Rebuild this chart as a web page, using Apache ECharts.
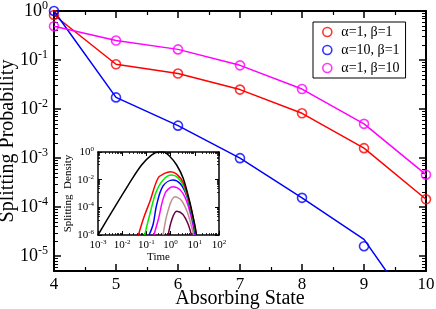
<!DOCTYPE html>
<html><head><meta charset="utf-8">
<script src="https://cdn.jsdelivr.net/npm/echarts@6/dist/echarts.min.js"></script>
<style>html,body{margin:0;padding:0;background:#fff}#c{width:436px;height:309px}</style>
</head><body><div id="c"></div>
<script>
// ---- main chart data ----
const states = [4, 5, 6, 7, 8, 9, 10];
const probA1B1 = [0.83, 0.082, 0.053, 0.025, 0.0082, 0.0016, 0.000145];
const probA10B1 = [1.0, 0.0173, 0.0046, 0.001, 0.000155, 0.000016];
const probA1B10 = [0.49, 0.25, 0.165, 0.078, 0.0256, 0.005, 0.00046];
const curveA10B1 = [1.0, 0.0173, 0.0046, 0.001, 0.000155, 0.000022, 0.00000035];
const seriesNames = ['α=1, β=1', 'α=10, β=1', 'α=1, β=10'];
const seriesColors = ['#ff0000', '#0000ff', '#ff00ff'];
// ---- inset data ----
const tBlack = [0.001, 0.00372, 0.0178, 0.0631, 0.162, 0.316, 0.501, 0.955, 1.778, 3.311, 6.166, 10, 11.75];
const dBlack = [1e-6, 4.68e-5, 4.07e-3, 0.115, 0.603, 1.0, 1.0, 0.457, 0.115, 0.0126, 2.51e-4, 5.01e-6, 1e-6];
const tRed = [0.0468, 0.0794, 0.138, 0.302, 0.562, 1.0, 1.78, 3.31, 6.17, 10, 11.7];
const dRed = [1e-6, 2e-5, 2.5e-4, 0.0126, 0.0282, 0.0372, 0.0251, 0.0063, 2e-4, 5e-6, 1e-6];
const tGreen = [0.0851, 0.141, 0.251, 0.501, 1.096, 1.995, 3.548, 6.31, 10, 11.2];
const dGreen = [1e-6, 3.6e-5, 1.26e-3, 0.01, 0.0214, 0.0141, 3.16e-3, 1.26e-4, 3.16e-6, 1e-6];
const tBlue = [0.129, 0.191, 0.263, 0.49, 1.259, 2.512, 4.467, 7.079, 10.7];
const dBlue = [1e-6, 6.3e-6, 1.41e-4, 3.55e-3, 9.33e-3, 5.01e-3, 7.94e-4, 3.98e-5, 1e-6];
const tMagenta = [0.204, 0.309, 0.589, 1.259, 2.512, 4.467, 7.079, 10];
const dMagenta = [1e-6, 1.26e-5, 1e-3, 3.09e-3, 1.78e-3, 3.16e-4, 2e-5, 1e-6];
const tTan = [0.49, 0.794, 1.514, 2.818, 5.012, 8.913];
const dTan = [1e-6, 6.3e-5, 5.75e-4, 3.16e-4, 3.98e-5, 1e-6];
const tPurple = [0.794, 1.122, 1.778, 3.162, 5.248, 7.244];
const dPurple = [1e-6, 1.26e-5, 5.25e-5, 3.16e-5, 6.3e-6, 1e-6];
const insetCurves = [
  [tBlack, dBlack, '#000000'], [tRed, dRed, '#ff0000'], [tGreen, dGreen, '#00ee00'],
  [tBlue, dBlue, '#0000ff'], [tMagenta, dMagenta, '#ff00ff'], [tTan, dTan, '#bc8f8f'],
  [tPurple, dPurple, '#660044']
];

const FF = 'Liberation Serif';
const zip = (a, b) => a.slice(0, b.length).map((x, i) => [x, b[i]]);
function powLabel(size, sup, raise) {
  return {
    formatter: v => '{b|10}{s|' + Math.round(Math.log10(v)) + '}',
    rich: {
      b: { fontFamily: FF, fontSize: size, color: '#000' },
      s: { fontFamily: FF, fontSize: sup, color: '#000', padding: [0, 0, raise, 0] }
    }
  };
}
const chart = echarts.init(document.getElementById('c'));

const mainTick = { show: true, inside: true, length: 7, lineStyle: { color: '#000', width: 1.5 } };
const mainMinor = { show: true, splitNumber: 2, length: 4, lineStyle: { color: '#000', width: 1.2 } };
const mainLine = { show: true, onZero: false, lineStyle: { color: '#000', width: 2 } };
const inTick = { show: true, inside: true, length: 4, lineStyle: { color: '#000', width: 1 } };
const inLine = { show: true, onZero: false, lineStyle: { color: '#000', width: 1.5 } };

const xMainBase = { type: 'value', gridIndex: 0, min: 4, max: 10, interval: 1, axisLine: mainLine,
  axisTick: mainTick, minorTick: mainMinor, splitLine: { show: false } };
const yMainBase = { type: 'log', logBase: 10, gridIndex: 0, min: 5e-6, max: 1, axisLine: mainLine,
  axisTick: mainTick, minorTick: { show: true, splitNumber: 9, length: 4, lineStyle: { color: '#000', width: 1 } },
  splitLine: { show: false } };
const xInBase = { type: 'log', logBase: 10, gridIndex: 1, min: 1e-3, max: 100, axisLine: inLine,
  axisTick: inTick, minorTick: { show: true, splitNumber: 9, length: 2, lineStyle: { color: '#000', width: 0.8 } },
  splitLine: { show: false } };
const yInBase = { type: 'log', logBase: 10, gridIndex: 1, min: 1e-6, max: 1, interval: 2, axisLine: inLine,
  axisTick: inTick, minorTick: { show: true, splitNumber: 9, length: 2, lineStyle: { color: '#000', width: 0.8 } },
  splitLine: { show: false } };

const series = [];
series.push({ type: 'line', name: 'c1', xAxisIndex: 0, yAxisIndex: 0, data: zip(states, probA1B1),
  showSymbol: false, lineStyle: { color: seriesColors[0], width: 1.5 }, itemStyle: { color: seriesColors[0] }, z: 3 });
series.push({ type: 'line', name: 'c2', xAxisIndex: 0, yAxisIndex: 0, data: zip(states, curveA10B1),
  showSymbol: false, lineStyle: { color: seriesColors[1], width: 1.5 }, itemStyle: { color: seriesColors[1] }, z: 3 });
series.push({ type: 'line', name: 'c3', xAxisIndex: 0, yAxisIndex: 0, data: zip(states, probA1B10),
  showSymbol: false, lineStyle: { color: seriesColors[2], width: 1.5 }, itemStyle: { color: seriesColors[2] }, z: 3 });
[probA1B1, probA10B1, probA1B10].forEach((arr, i) => {
  series.push({ type: 'scatter', name: seriesNames[i], xAxisIndex: 0, yAxisIndex: 0, data: zip(states, arr),
    symbol: 'circle', symbolSize: 9,
    itemStyle: { color: 'rgba(255,255,255,0)', borderColor: seriesColors[i], borderWidth: 1.6 }, z: 4 });
});
insetCurves.forEach((c, i) => {
  series.push({ type: 'line', name: 'inset' + i, xAxisIndex: 2, yAxisIndex: 2, data: zip(c[0], c[1]),
    showSymbol: false, smooth: 0.35, clip: true, lineStyle: { color: c[2], width: 1.5 }, z: 10 + (7 - i) });
});

chart.setOption({
  animation: false,
  backgroundColor: '#fff',
  grid: [
    { left: 54, right: 10, top: 11, bottom: 38, outerBoundsMode: 'none', containLabel: false },
    { left: 98, top: 152, width: 121, height: 83, show: true, backgroundColor: '#fff', borderWidth: 0, z: 5,
      outerBoundsMode: 'none', containLabel: false }
  ],
  legend: {
    data: seriesNames.map((n, i) => ({ name: n, icon: 'circle',
      itemStyle: { color: 'rgba(255,255,255,0)', borderColor: seriesColors[i], borderWidth: 1.6 } })),
    orient: 'vertical', left: 313, top: 22, width: 93,
    backgroundColor: '#fff', borderColor: '#000', borderWidth: 1, padding: [3, 6, 3, 9],
    itemWidth: 10, itemHeight: 9, itemGap: 4,
    textStyle: { fontFamily: FF, fontSize: 14, color: '#000', padding: [0, 0, 0, 4] }
  },
  xAxis: [
    Object.assign({}, xMainBase, { position: 'bottom', name: 'Absorbing State', nameLocation: 'middle', nameGap: 18,
      nameMoveOverlap: false,
      nameTextStyle: { fontFamily: FF, fontSize: 20, color: '#000' },
      axisLabel: { fontFamily: FF, fontSize: 17, color: '#000', margin: 5 } }),
    Object.assign({}, xMainBase, { position: 'top', axisLabel: { show: false } }),
    Object.assign({}, xInBase, { gridIndex: 1, position: 'bottom', name: 'Time', nameLocation: 'middle', nameGap: 17,
      nameMoveOverlap: false,
      nameTextStyle: { fontFamily: FF, fontSize: 11, color: '#000' },
      axisLabel: Object.assign({ margin: 4 }, powLabel(11, 7, 6)), z: 6 }),
    Object.assign({}, xInBase, { gridIndex: 1, position: 'top', axisLabel: { show: false }, z: 6 })
  ],
  yAxis: [
    Object.assign({}, yMainBase, { position: 'left', name: 'Splitting Probability', nameLocation: 'middle', nameGap: 36,
      nameMoveOverlap: false,
      nameTextStyle: { fontFamily: FF, fontSize: 20, color: '#000' },
      axisLabel: Object.assign({ margin: 6, showMinLabel: false }, powLabel(18, 12, 10)) }),
    Object.assign({}, yMainBase, { position: 'right', axisLabel: { show: false } }),
    Object.assign({}, yInBase, { gridIndex: 1, position: 'left', name: 'Splitting  Density', nameLocation: 'middle', nameGap: 24,
      nameMoveOverlap: false,
      nameTextStyle: { fontFamily: FF, fontSize: 11, color: '#000' },
      axisLabel: Object.assign({ margin: 4 }, powLabel(11, 7, 6)), z: 6 }),
    Object.assign({}, yInBase, { gridIndex: 1, position: 'right', axisLabel: { show: false }, z: 6 })
  ],
  series: series
});
</script>
</body></html>
